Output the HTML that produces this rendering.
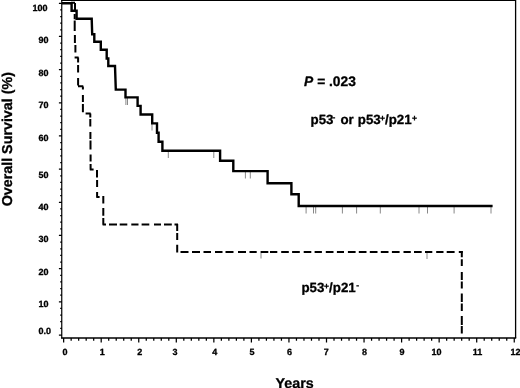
<!DOCTYPE html>
<html>
<head>
<meta charset="utf-8">
<title>Overall Survival</title>
<style>
html,body{margin:0;padding:0;background:#fff;}
body{width:520px;height:388px;overflow:hidden;}
svg{display:block;}
text{text-rendering:geometricPrecision;font-family:"Liberation Sans",sans-serif;font-weight:bold;fill:#000;stroke:#000;stroke-width:0.3px;}
.tk{font-size:9px;}
.lb{font-size:13px;}
.sp{font-size:8.5px;}
</style>
</head>
<body>
<svg width="520" height="388" viewBox="0 0 520 388">
<rect x="0" y="0" width="520" height="388" fill="#fff"/>
<!-- frame -->
<g stroke="#000" fill="none">
<path d="M61.2 0.5H516" stroke-width="1.2"/>
<path d="M515.6 0V338" stroke-width="1.3"/>
<path d="M61.75 0V338.6" stroke-width="1.2"/>
<path d="M61.2 338.1H516.2" stroke-width="1.5"/>
</g>
<!-- y ticks -->
<path stroke="#000" stroke-width="1.25" fill="none" d="M58.9 3.3H62M60.2 9.93H62M60.2 16.57H62M60.2 23.2H62M60.2 29.84H62M58.9 36.47H62M60.2 43.1H62M60.2 49.74H62M60.2 56.37H62M60.2 63.01H62M58.9 69.64H62M60.2 76.27H62M60.2 82.91H62M60.2 89.54H62M60.2 96.18H62M58.9 102.81H62M60.2 109.44H62M60.2 116.08H62M60.2 122.71H62M60.2 129.35H62M58.9 135.98H62M60.2 142.61H62M60.2 149.25H62M60.2 155.88H62M60.2 162.52H62M58.9 169.15H62M60.2 175.78H62M60.2 182.42H62M60.2 189.05H62M60.2 195.69H62M58.9 202.32H62M60.2 208.95H62M60.2 215.59H62M60.2 222.22H62M60.2 228.86H62M58.9 235.49H62M60.2 242.12H62M60.2 248.76H62M60.2 255.39H62M60.2 262.03H62M58.9 268.66H62M60.2 275.29H62M60.2 281.93H62M60.2 288.56H62M60.2 295.2H62M58.9 301.83H62M60.2 308.46H62M60.2 315.1H62M60.2 321.73H62M60.2 328.37H62M58.9 335H62"/>
<path stroke="#000" stroke-width="1.25" fill="none" d="M63.65 338V342.5M71.16 338V340.8M78.67 338V340.8M86.18 338V340.8M93.69 338V340.8M101.2 338V342.5M108.71 338V340.8M116.22 338V340.8M123.73 338V340.8M131.24 338V340.8M138.75 338V342.5M146.26 338V340.8M153.77 338V340.8M161.28 338V340.8M168.79 338V340.8M176.3 338V342.5M183.81 338V340.8M191.32 338V340.8M198.83 338V340.8M206.34 338V340.8M213.85 338V342.5M221.36 338V340.8M228.87 338V340.8M236.38 338V340.8M243.89 338V340.8M251.4 338V342.5M258.91 338V340.8M266.42 338V340.8M273.93 338V340.8M281.44 338V340.8M288.95 338V342.5M296.46 338V340.8M303.97 338V340.8M311.48 338V340.8M318.99 338V340.8M326.5 338V342.5M334.01 338V340.8M341.52 338V340.8M349.03 338V340.8M356.54 338V340.8M364.05 338V342.5M371.56 338V340.8M379.07 338V340.8M386.58 338V340.8M394.09 338V340.8M401.6 338V342.5M409.11 338V340.8M416.62 338V340.8M424.13 338V340.8M431.64 338V340.8M439.15 338V342.5M446.66 338V340.8M454.17 338V340.8M461.68 338V340.8M469.19 338V340.8M476.7 338V342.5M484.21 338V340.8M491.72 338V340.8M499.23 338V340.8M506.74 338V340.8M514.25 338V342.5"/>
<!-- censor ticks -->
<g stroke="#7a7a7a" stroke-width="0.9" fill="none">
<path d="M125.9 98V105M127.5 98V105M152 124V130.5M168.3 151.5V158M213.8 151.5V158M245.4 172V178.5M250.3 172V178.5"/>
<path d="M306.1 207V213.5M313.5 207V213.5M315.7 207V213.5M342.4 207V213.5M356.6 207V213.5M380.3 207V213.5M419 207V213.5M427.5 207V213.5M454.1 207V213.5M491 207V213.5"/>
<path d="M261 253V258.5M427 253V259"/>
</g>
<!-- solid curve -->
<path fill="none" stroke="#000" stroke-width="2.4" stroke-linejoin="miter" transform="translate(0 0.2)" d="M62 3H71.6V10.6H76.6V18.5H91.7L92.2 34.1H94.3V41.5H100.8V49.5H106.7V58.3H108.3V65.8H115L115.8 89.4H125.5V97.2H137.6V105.7H140.6V114.3H152.2V123.2H157V132.5H158.6V141.5H162.4V150.6H220.1V160.5H233.3V170.9H267.6V183H291.4V194H298.7V205.8H492.6"/>
<!-- dashed curve -->
<path fill="none" stroke="#000" stroke-width="2" d="
M71 2.8H75
M75 3V10.5M74.7 14V19.2M74.7 20.6V31M74.9 35V43M75.4 45V52.5M75.9 57V58
M74.6 57.6H78.6
M78.1 57.5V62.6M78.1 65V72.6M78.1 78V85.5
M78 86.3H83.3
M82.9 86.5V89.6M82.9 95V102M82.9 104V112.2
M85.6 113.4H90.7
M90.3 113.5V117.6M90.3 119V126.6M90.4 132V139M90.5 140.5V149.5M90.6 154.5V161.5M90.6 164V169.7
M89.8 169.4H93.6
M97 170V177.5M97.1 180V187M97.1 192V197.5
M96.4 197H99.6
M103.3 196V203.5M103.3 208V215.7M103.3 218V224.7
M102.6 224.5H106M109 224.5H117M119.7 224.5H127.3M131.3 224.5H138.5M141.6 224.5H149.3M154 224.5H161M164 224.5H171.8M174.5 224.5H178
M177.2 224V231M177.2 233V240M177.2 244.8V252.6
"/>
<path fill="none" stroke="#000" stroke-width="2" d="M180.5 252H188.5M192 252H200M203.5 252H211M215 252H222.5M225.5 252H233.5M238 252H246M249.5 252H256.7M260.6 252H268.3M270 252H277.3M281.2 252H288.8M292.1 252H299.8M303.7 252H311.3M314.6 252H321.9M325.8 252H333.5M336.9 252H344M347.9 252H355.6M358.8 252H366.5M369.8 252H377.5M380.8 252H388.5M391.9 252H399.6M403.5 252H410.8M414 252H421.7M425 252H432.3M436.2 252H443.5M446.7 252H454.6M458.8 252H462.7"/>
<path fill="none" stroke="#000" stroke-width="2" d="M461.8 251V257.3M461.8 259.2V266M461.8 272V280M461.8 281.4V288.4M461.8 293.5V302M461.8 303.5V311M461.8 316V325M461.8 326V333.5"/>
<!-- text -->
<g class="tk" text-anchor="end">
<text x="47.6" y="11.25">100</text>
<text x="48.6" y="43.45">90</text>
<text x="48.6" y="76.05">80</text>
<text x="48.6" y="107.85">70</text>
<text x="48.6" y="140.55">60</text>
<text x="48.6" y="177.85">50</text>
<text x="48.6" y="210.25">40</text>
<text x="48.6" y="242.45">30</text>
<text x="48.6" y="275.25">20</text>
<text x="48.6" y="307.35">10</text>
<text x="51" y="334.15">0.0</text>
</g>
<g class="tk" text-anchor="middle">
<text x="64.9" y="354.8">0</text>
<text x="102.3" y="354.8">1</text>
<text x="139.75" y="354.8">2</text>
<text x="175" y="354.8">3</text>
<text x="214.75" y="354.8">4</text>
<text x="252" y="354.8">5</text>
<text x="289.5" y="354.8">6</text>
<text x="326.25" y="354.8">7</text>
<text x="364.5" y="354.8">8</text>
<text x="402" y="354.8">9</text>
<text x="436.5" y="354.8">10</text>
<text x="477.6" y="354.8">11</text>
<text x="515.6" y="354.8">12</text>
</g>
<text class="lb" style="font-size:13.8px" x="304.1" y="85.8"><tspan font-style="italic">P</tspan> = .023</text>
<text class="lb" style="font-size:13.3px" y="124.4"><tspan x="310.6">p53</tspan><tspan class="sp" x="332.4" dy="-4">-</tspan><tspan x="340.5" dy="4">or</tspan><tspan x="357.8">p53</tspan><tspan class="sp" x="380" dy="-3.2">+</tspan><tspan x="384.9" dy="3.2">/</tspan><tspan x="388.7">p21</tspan><tspan class="sp" x="412.1" dy="-3.2">+</tspan></text>
<text class="lb" style="font-size:13.3px" y="292.3"><tspan x="301.4">p53</tspan><tspan class="sp" x="324.1" dy="-3.2">+</tspan><tspan x="329" dy="3.2">/</tspan><tspan x="332.8">p21</tspan><tspan class="sp" x="356.2" dy="-4">-</tspan></text>
<text style="font-size:14.3px" x="294.6" y="387.5" text-anchor="middle">Years</text>
<text style="font-size:14.3px" transform="translate(12.3 139.2) rotate(-90)" text-anchor="middle">Overall Survival (%)</text>
</svg>
</body>
</html>
